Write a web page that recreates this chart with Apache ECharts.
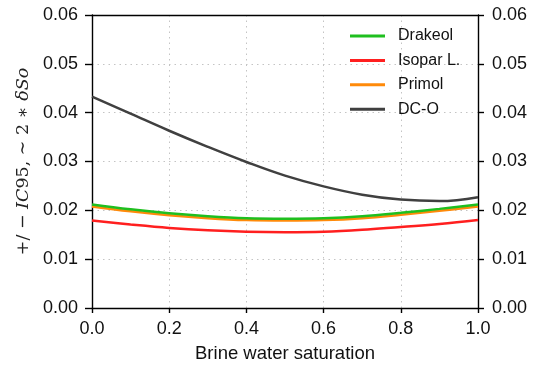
<!DOCTYPE html>
<html>
<head>
<meta charset="utf-8">
<script src="https://cdn.jsdelivr.net/npm/echarts@6/dist/echarts.min.js"></script>
<style>html,body{margin:0;padding:0;background:#fff}#c{width:539px;height:368px}</style>
</head>
<body>
<div id="c"></div>
<script>
const xValues = [0.0, 0.1, 0.2, 0.3, 0.4, 0.5, 0.6, 0.7, 0.8, 0.9, 1.0];
const drakeol = [0.0212, 0.0202, 0.0194, 0.0188, 0.0184, 0.0183, 0.0184, 0.0188, 0.0195, 0.0203, 0.0212];
const isopar  = [0.0179, 0.0171, 0.0164, 0.0159, 0.0156, 0.0155, 0.0156, 0.0160, 0.0166, 0.0172, 0.0180];
const primol  = [0.0208, 0.0198, 0.0190, 0.0184, 0.0180, 0.0179, 0.0180, 0.0184, 0.0191, 0.0199, 0.0208];
const dco     = [0.0433, 0.0398, 0.0363, 0.0330, 0.0299, 0.0271, 0.0249, 0.0232, 0.0222, 0.0219, 0.0227];
const seriesNames = ['Drakeol', 'Isopar L.', 'Primol', 'DC-O'];
const xTitle = 'Brine water saturation';

const colors = ['#1fbf1f', '#ff1f1f', '#ff8a0a', '#404040'];
const allData = [drakeol, isopar, primol, dco];
const pairs = arr => xValues.map((x, i) => [x, arr[i]]);

const axisLineStyle = { color: '#000', width: 1.4 };
const gridLineStyle = { type: [1.5, 4], color: '#c4c4c4', width: 1 };
const chart = echarts.init(document.getElementById('c'), null, { renderer: 'canvas' });
chart.setOption({
  animation: false,
  backgroundColor: '#fff',
  grid: { left: 92, right: 61, top: 15, bottom: 58 },
  legend: {
    orient: 'vertical',
    left: 350, top: 28, padding: 0,
    icon: 'rect',
    itemWidth: 35, itemHeight: 3, itemGap: 8.4,
    textStyle: { fontFamily: 'Liberation Sans, Arial', fontSize: 16, color: '#111', lineHeight: 16, padding: [0, 0, 0, 8] },
    data: seriesNames
  },
  xAxis: [{
    type: 'value', min: 0, max: 1, interval: 0.2, position: 'bottom',
    name: xTitle, nameLocation: 'middle', nameGap: 36,
    nameTextStyle: { fontFamily: 'Liberation Sans, Arial', fontSize: 18.5, color: '#111' },
    axisLine: { show: true, onZero: false, lineStyle: axisLineStyle },
    axisTick: { show: true, inside: false, length: 5, lineStyle: axisLineStyle },
    axisLabel: { margin: 12, fontFamily: 'Liberation Sans, Arial', fontSize: 18, color: '#111',
      formatter: v => v.toFixed(1) },
    splitLine: { show: true, lineStyle: gridLineStyle }
  }, {
    type: 'value', min: 0, max: 1, interval: 0.2, position: 'top',
    axisLine: { show: true, onZero: false, lineStyle: axisLineStyle },
    axisTick: { show: false }, axisLabel: { show: false }, splitLine: { show: false }
  }],
  yAxis: [{
    type: 'value', min: 0, max: 0.06, interval: 0.01, position: 'left',
    name: '{n|+/ − }{i|IC}{n|95, ∼ 2 ∗ }{i|δSo}',
    nameLocation: 'middle', nameRotate: 90, nameGap: 59,
    nameTextStyle: {
      rich: {
        n: { fontFamily: 'DejaVu Serif', fontSize: 17.5, color: '#222' },
        i: { fontFamily: 'DejaVu Serif', fontStyle: 'italic', fontSize: 17.5, color: '#222' }
      }
    },
    axisLine: { show: true, onZero: false, lineStyle: axisLineStyle },
    axisTick: { show: true, inside: false, length: 7, lineStyle: axisLineStyle },
    axisLabel: { margin: 14, fontFamily: 'Liberation Sans, Arial', fontSize: 18, color: '#111',
      formatter: v => v.toFixed(2) },
    splitLine: { show: true, lineStyle: gridLineStyle }
  }, {
    type: 'value', min: 0, max: 0.06, interval: 0.01, position: 'right',
    axisLine: { show: true, onZero: false, lineStyle: axisLineStyle },
    axisTick: { show: true, inside: false, length: 6, lineStyle: axisLineStyle },
    axisLabel: { margin: 14, fontFamily: 'Liberation Sans, Arial', fontSize: 18, color: '#111',
      formatter: v => v.toFixed(2) },
    splitLine: { show: false }
  }],
  series: seriesNames.map((name, k) => ({
    name, type: 'line', smooth: 0.4, symbol: 'none',
    xAxisIndex: 0, yAxisIndex: 0,
    data: pairs(allData[k]),
    lineStyle: { color: colors[k], width: 2.5 },
    itemStyle: { color: colors[k] },
    z: k === 0 ? 3 : 2
  }))
});
</script>
</body>
</html>
